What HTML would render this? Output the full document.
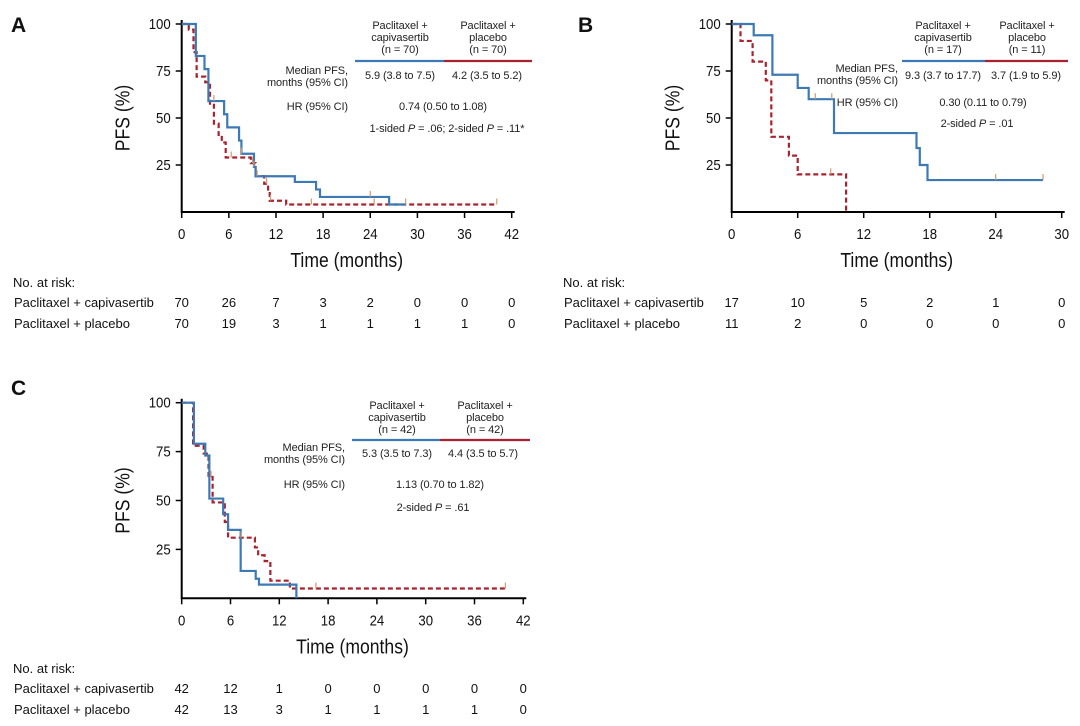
<!DOCTYPE html>
<html><head><meta charset="utf-8">
<style>
html,body{margin:0;padding:0;background:#fff;}
svg{display:block;font-family:"Liberation Sans",Arial,sans-serif;}
.tick{font-size:15px;fill:#111;}
.axt{font-size:20px;fill:#111;}
.sm{font-size:11px;fill:#222;letter-spacing:-0.1px;}
.rk{font-size:13px;fill:#111;}
.let{font-size:21px;font-weight:bold;fill:#111;}
</style></head>
<body>
<svg id="c" width="1080" height="726" viewBox="0 0 1080 726"></svg>
<script>
// Panel A data
const aBlueT=[0,1.8,2.9,3.4,5.4,5.8,7.3,7.6,9.2,9.4,14.4,17.1,17.6,26.4];
const aBlueS=[100,83,76,59,52,45,38,31,24,19,16,12,8,4];
const aBlueEnd=28.5;
const aRedT=[0,0.9,1.5,1.9,3.0,3.6,4.1,4.7,5.1,5.6,8.8,9.4,10.5,11.0,11.2,13.3];
const aRedS=[100,97,85,72,69,57,47,41,37,29,26,19,15,11,6,4];
const aRedEnd=40.1;
const aBlueCens=[4.1,7.6,9.2,9.6,24,28.5];
const aRedCens=[6.3,9.0,10.8,11.3,16.5,24.5,40.1];
const aRiskBlue=[70,26,7,3,2,0,0,0];
const aRiskRed=[70,19,3,1,1,1,1,0];
const aTicksX=[0,6,12,18,24,30,36,42];
// Panel B data
const bBlueT=[0,2.0,3.7,6.0,7.0,9.3,16.8,17.1,17.8];
const bBlueS=[100,94,73,66,60,42,34,25,17];
const bBlueEnd=28.3;
const bRedT=[0,0.8,1.9,3.1,3.6,5.2,6.0,10.4];
const bRedS=[100,91,80,70,40,30,20,0];
const bRedEnd=10.4;
const bBlueCens=[7.6,9.1,24,28.3];
const bRedCens=[9.0];
const bRiskBlue=[17,10,5,2,1,0];
const bRiskRed=[11,2,0,0,0,0];
const bTicksX=[0,6,12,18,24,30];
// Panel C data
const cBlueT=[0,1.5,2.9,3.4,5.1,5.7,7.25,9.1,9.5,14.1];
const cBlueS=[100,79,73,51,43,35,14,10,7,0];
const cBlueEnd=14.1;
const cRedT=[0,1.4,2.7,3.3,3.8,5.1,5.3,5.7,9.0,9.4,10.2,10.9,13.3];
const cRedS=[100,78,74,62,49,48,39,31,26,22,19,9,5];
const cRedEnd=39.8;
const cRedCens=[3.6,7.3,16.5,39.8];
const cRiskBlue=[42,12,1,0,0,0,0,0];
const cRiskRed=[42,13,3,1,1,1,1,0];
const cTicksX=[0,6,12,18,24,30,36,42];
const yTicks=[25,50,75,100];

const svg=document.getElementById('c');
const NS='http://www.w3.org/2000/svg';
function el(tag,attrs,parent,txt){const e=document.createElementNS(NS,tag);for(const k in attrs)e.setAttribute(k,attrs[k]);if(txt!==undefined)e.textContent=txt;(parent||svg).appendChild(e);return e;}
function stepPath(T,S,end,sx,sy){let d='M'+sx(T[0])+' '+sy(S[0]);for(let i=1;i<T.length;i++){d+=' H'+sx(T[i])+' V'+sy(S[i]);}d+=' H'+sx(end);return d;}
function ctext(x,y,cls,anchor,parent,txt,sc){return el('text',{x:0,y:0,class:cls,'text-anchor':anchor,transform:`translate(${x},${y}) scale(${sc||0.88},1)`},parent,txt);}

function panel(p){
  const g=el('g',{});
  
  
  const sx=t=>p.x0+(t/p.xmax)*(p.x1-p.x0);
  const sy=s=>p.y0-(s/100)*(p.y0-p.y1);
  const L=el('text',{x:p.lx,y:p.ly,class:'let'},g,p.letter);
  
  const ax=el('path',{d:`M${p.x0} ${p.y1-4} V${p.y0} H${p.x1+3}`,stroke:'#000','stroke-width':2,fill:'none'},g);
  
  p.ticks.forEach(t=>{
    el('line',{x1:sx(t),x2:sx(t),y1:p.y0,y2:p.y0+6,stroke:'#000','stroke-width':1.5},g);
    const tx=ctext(sx(t),p.y0+27,'tick','middle',g,t);
    
  });
  yTicks.forEach(v=>{
    el('line',{x1:p.x0-6,x2:p.x0,y1:sy(v),y2:sy(v),stroke:'#000','stroke-width':1.5},g);
    const ty=ctext(p.x0-11,sy(v)+5,'tick','end',g,v);
    
  });
  const yt=el('text',{x:0,y:0,class:'axt','text-anchor':'middle',transform:`translate(${p.x0-52},${(p.y0+p.y1)/2}) rotate(-90) scale(0.88,1)`},g,'PFS (%)');
  
  const xt=ctext((p.x0+p.x1)/2,p.y0+55,'axt','middle',g,'Time (months)');
  
  const r=el('path',{d:stepPath(p.rT,p.rS,p.rEnd,sx,sy),stroke:'#a8232f','stroke-width':2.2,fill:'none','stroke-dasharray':'5,3'},g);
  
  const b=el('path',{d:stepPath(p.bT,p.bS,p.bEnd,sx,sy),stroke:'#3d7ab5','stroke-width':2.2,fill:'none'},g);
  
  function survAt(T,S,t){let s=S[0];for(let i=0;i<T.length;i++)if(T[i]<=t)s=S[i];return s;}
  (p.bC||[]).forEach(t=>{const c=el('line',{x1:sx(t),x2:sx(t),y1:sy(survAt(p.bT,p.bS,t)),y2:sy(survAt(p.bT,p.bS,t))-6,stroke:'#d09a6a','stroke-width':1.2},g);});
  (p.rC||[]).forEach(t=>{const c=el('line',{x1:sx(t),x2:sx(t),y1:sy(survAt(p.rT,p.rS,t)),y2:sy(survAt(p.rT,p.rS,t))-6,stroke:'#d09a6a','stroke-width':1.2},g);});
  const tb=el('g',{},g);
  
  const q=p.tab;
  [[q.c1,'capivasertib',p.nB],[q.c2,'placebo',p.nR]].forEach(([cx,nm,n])=>{
    el('text',{x:cx,y:q.hy,class:'sm','text-anchor':'middle'},tb,'Paclitaxel +');
    el('text',{x:cx,y:q.hy+12,class:'sm','text-anchor':'middle'},tb,nm);
    el('text',{x:cx,y:q.hy+24,class:'sm','text-anchor':'middle'},tb,'(n = '+n+')');
  });
  el('line',{x1:q.l0,x2:q.lm,y1:q.ly,y2:q.ly,stroke:'#3d7ab5','stroke-width':2.2},tb);
  el('line',{x1:q.lm,x2:q.l1,y1:q.ly,y2:q.ly,stroke:'#a8232f','stroke-width':2.2},tb);
  el('text',{x:q.mx,y:q.my,class:'sm','text-anchor':'end'},tb,'Median PFS,');
  el('text',{x:q.mx,y:q.my+12,class:'sm','text-anchor':'end'},tb,'months (95% CI)');
  el('text',{x:q.v1,y:q.vy,class:'sm','text-anchor':'middle'},tb,p.medB);
  el('text',{x:q.v2,y:q.vy,class:'sm','text-anchor':'middle'},tb,p.medR);
  el('text',{x:q.hx,y:q.hry,class:'sm','text-anchor':'end'},tb,'HR (95% CI)');
  el('text',{x:q.hv,y:q.hry,class:'sm','text-anchor':'middle'},tb,p.hr);
  const pt=el('text',{x:q.px,y:q.py,class:'sm','text-anchor':'middle'},tb);
  pt.innerHTML=p.ptxt;
  const rk=el('g',{},g);
  
  el('text',{x:p.rkx,y:p.rky,class:'rk'},rk,'No. at risk:');
  el('text',{x:p.rkx+1,y:p.rky+20,class:'rk'},rk,'Paclitaxel + capivasertib');
  el('text',{x:p.rkx+1,y:p.rky+41,class:'rk'},rk,'Paclitaxel + placebo');
  p.ticks.forEach((t,i)=>{
    el('text',{x:sx(t),y:p.rky+20,class:'rk','text-anchor':'middle'},rk,p.riskB[i]);
    el('text',{x:sx(t),y:p.rky+41,class:'rk','text-anchor':'middle'},rk,p.riskR[i]);
  });
}

panel({name:'panel-a',letter:'A',lx:11,ly:32,x0:181.7,x1:511.7,xmax:42,y0:212,y1:24,ticks:aTicksX,
  bT:aBlueT,bS:aBlueS,bEnd:aBlueEnd,rT:aRedT,rS:aRedS,rEnd:aRedEnd,bC:aBlueCens,rC:aRedCens,
  nB:70,nR:70,medB:'5.9 (3.8 to 7.5)',medR:'4.2 (3.5 to 5.2)',hr:'0.74 (0.50 to 1.08)',
  ptxt:'1-sided <tspan font-style="italic">P</tspan> = .06; 2-sided <tspan font-style="italic">P</tspan> = .11*',
  tab:{c1:400,c2:488,hy:29,l0:355,lm:444,l1:532,ly:61,mx:348,my:74,v1:400,v2:487,vy:79,hx:348,hry:110,hv:443,px:447,py:132},
  riskB:aRiskBlue,riskR:aRiskRed,rkx:13,rky:287});
panel({name:'panel-b',letter:'B',lx:578,ly:32,x0:731.7,x1:1061.7,xmax:30,y0:212,y1:24,ticks:bTicksX,
  bT:bBlueT,bS:bBlueS,bEnd:bBlueEnd,rT:bRedT,rS:bRedS,rEnd:bRedEnd,bC:bBlueCens,rC:bRedCens,
  nB:17,nR:11,medB:'9.3 (3.7 to 17.7)',medR:'3.7 (1.9 to 5.9)',hr:'0.30 (0.11 to 0.79)',
  ptxt:'2-sided <tspan font-style="italic">P</tspan> = .01',
  tab:{c1:943,c2:1027,hy:29,l0:902,lm:985,l1:1068,ly:61,mx:898,my:72,v1:943,v2:1026,vy:79,hx:898,hry:106,hv:983,px:977,py:127},
  riskB:bRiskBlue,riskR:bRiskRed,rkx:563,rky:287});
panel({name:'panel-c',letter:'C',lx:11,ly:395,x0:181.7,x1:523.3,xmax:42,y0:598.3,y1:402.7,ticks:cTicksX,
  bT:cBlueT,bS:cBlueS,bEnd:cBlueEnd,rT:cRedT,rS:cRedS,rEnd:cRedEnd,bC:[],rC:cRedCens,
  nB:42,nR:42,medB:'5.3 (3.5 to 7.3)',medR:'4.4 (3.5 to 5.7)',hr:'1.13 (0.70 to 1.82)',
  ptxt:'2-sided <tspan font-style="italic">P</tspan> = .61',
  tab:{c1:397,c2:485,hy:409,l0:352,lm:440,l1:530,ly:440,mx:345,my:451,v1:397,v2:483,vy:457,hx:345,hry:488,hv:440,px:433,py:511},
  riskB:cRiskBlue,riskR:cRiskRed,rkx:13,rky:673});
</script>
</body></html>
